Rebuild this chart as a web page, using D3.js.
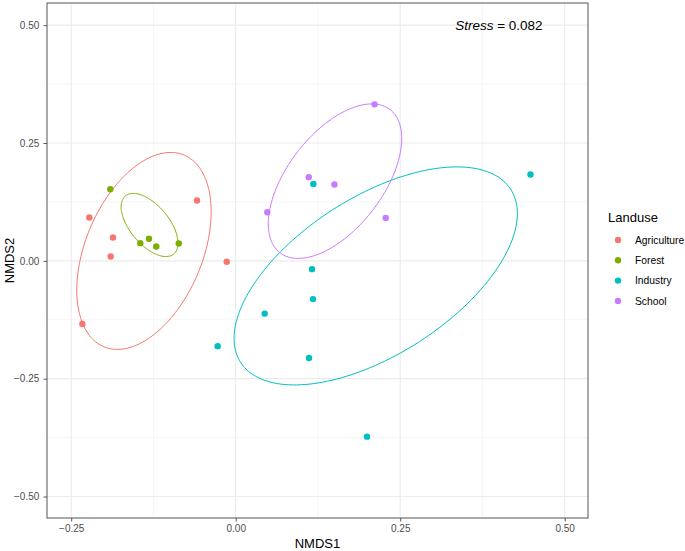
<!DOCTYPE html>
<html><head><meta charset="utf-8">
<script src="https://cdn.jsdelivr.net/npm/d3@7"></script>
<style>body{margin:0;background:#fff;font-family:"Liberation Sans",Arial,sans-serif;}</style>
</head><body><svg id="c" width="685" height="551"></svg>
<script>
const groups = ["Agriculture","Forest","Industry","School"];
const colors = ["#F8766D","#7CAE00","#00BFC4","#C77CFF"];
const agricultureX = [-0.2225,-0.1865,-0.190,-0.0588,-0.0137,-0.233];
const agricultureY = [0.092,0.0496,0.0093,0.128,-0.002,-0.134];
const forestX = [-0.1906,-0.145,-0.1318,-0.1207,-0.0866];
const forestY = [0.152,0.0375,0.0467,0.0305,0.0369];
const industryX = [-0.0274,0.118,0.448,0.116,0.1175,0.044,0.1114,0.1995];
const industryY = [-0.181,0.163,0.183,-0.0176,-0.0812,-0.112,-0.206,-0.373];
const schoolX = [0.211,0.111,0.150,0.048,0.228];
const schoolY = [0.332,0.1775,0.162,0.103,0.091];
// 95% ellipses per group (data units): centre, half-width in x,
// y-offset at the rightmost point, half-height in y
const ellipseCX = [-0.1394,-0.1309,0.2128,0.1509];
const ellipseCY = [0.0210,0.0761,-0.0320,0.1690];
const ellipseHalfX = [0.1021,0.0432,0.2153,0.1014];
const ellipseYAtXMax = [0.0829,-0.0385,0.1325,0.0905];
const ellipseHalfY = [0.2089,0.0670,0.2313,0.1639];
const xTicks = [-0.25,0,0.25,0.5];
const yTicks = [-0.5,-0.25,0,0.25,0.5];
const stressValue = "0.082";
const stressPos = [0.4, 0.5];

const seriesX = [agricultureX, forestX, industryX, schoolX];
const seriesY = [agricultureY, forestY, industryY, schoolY];

const svg = d3.select("#c");
const L = 47, R = 588, T = 3, B = 518;
const x = d3.scaleLinear().domain([-0.2868, 0.5354]).range([L, R]);
const y = d3.scaleLinear().domain([-0.5456, 0.547]).range([B, T]);

// grid
const g = svg.append("g");
const minorX = [-0.125,0.125,0.375], minorY = [-0.375,-0.125,0.125,0.375];
g.selectAll(".mx").data(minorX).enter().append("line")
 .attr("x1",d=>x(d)).attr("x2",d=>x(d)).attr("y1",T).attr("y2",B)
 .attr("stroke","#f0f0f0").attr("stroke-width",0.6);
g.selectAll(".my").data(minorY).enter().append("line")
 .attr("y1",d=>y(d)).attr("y2",d=>y(d)).attr("x1",L).attr("x2",R)
 .attr("stroke","#f0f0f0").attr("stroke-width",0.6);
g.selectAll(".Mx").data(xTicks).enter().append("line")
 .attr("x1",d=>x(d)).attr("x2",d=>x(d)).attr("y1",T).attr("y2",B)
 .attr("stroke","#ebebeb").attr("stroke-width",1.1);
g.selectAll(".My").data(yTicks).enter().append("line")
 .attr("y1",d=>y(d)).attr("y2",d=>y(d)).attr("x1",L).attr("x2",R)
 .attr("stroke","#ebebeb").attr("stroke-width",1.1);

const clip = svg.append("clipPath").attr("id","pc").append("rect")
  .attr("x",L).attr("y",T).attr("width",R-L).attr("height",B-T);
const line = d3.line().x(d=>x(d[0])).y(d=>y(d[1])).curve(d3.curveLinearClosed);
const eg = svg.append("g").attr("clip-path","url(#pc)");
groups.forEach((grp,gi)=>{
  const a = ellipseHalfX[gi], b = ellipseYAtXMax[gi];
  const c = Math.sqrt(ellipseHalfY[gi]**2 - b*b);
  const pts = d3.range(0, 2*Math.PI, Math.PI/90).map(t=>[
    ellipseCX[gi] + a*Math.cos(t),
    ellipseCY[gi] + b*Math.cos(t) + c*Math.sin(t)]);
  eg.append("path").attr("d", line(pts))
    .attr("fill","none").attr("stroke",colors[gi]).attr("stroke-width",1);
});
groups.forEach((grp,gi)=>{
  const pts = seriesX[gi].map((v,i)=>[v, seriesY[gi][i]]);
  eg.selectAll(".p"+gi).data(pts).enter().append("circle")
    .attr("cx",d=>x(d[0])).attr("cy",d=>y(d[1])).attr("r",3.2).attr("fill",colors[gi]);
});

// border
svg.append("rect").attr("x",L).attr("y",T).attr("width",R-L).attr("height",B-T)
  .attr("fill","none").attr("stroke","#555").attr("stroke-width",1);

// axes
const fmt = d3.format(".2f");
const xa = svg.append("g").attr("transform",`translate(0,${B})`)
  .call(d3.axisBottom(x).tickValues(xTicks).tickFormat(fmt).tickSizeOuter(0).tickSize(3.5).tickPadding(3));
const ya = svg.append("g").attr("transform",`translate(${L},0)`)
  .call(d3.axisLeft(y).tickValues(yTicks).tickFormat(fmt).tickSizeOuter(0).tickSize(3.5).tickPadding(4.2));
[xa,ya].forEach(a=>{
  a.select(".domain").remove();
  a.selectAll(".tick line").attr("stroke","#555").attr("stroke-width",1);
  a.selectAll(".tick text").attr("fill","#4d4d4d").attr("font-size","10px").attr("font-family","Liberation Sans, Arial, sans-serif");
});

svg.append("text").attr("x",(L+R)/2).attr("y",548).attr("text-anchor","middle")
  .attr("font-size","13px").attr("fill","#000").text("NMDS1");
svg.append("text").attr("transform",`translate(13.5,${(T+B)/2}) rotate(-90)`).attr("text-anchor","middle")
  .attr("font-size","13px").attr("fill","#000").text("NMDS2");

// stress
const st = svg.append("text").attr("x",x(stressPos[0])).attr("y",y(stressPos[1])+4.5).attr("text-anchor","middle")
  .attr("font-size","13.5px").attr("fill","#000");
st.append("tspan").attr("font-style","italic").text("Stress");
st.append("tspan").text(" = "+stressValue);

// legend
const lg = svg.append("g");
lg.append("text").attr("x",608).attr("y",221.5).attr("font-size","13px").attr("fill","#000").text("Landuse");
groups.forEach((grp,gi)=>{
  const yy = 240 + gi*20.3;
  lg.append("circle").attr("cx",618).attr("cy",yy).attr("r",3.2).attr("fill",colors[gi]);
  lg.append("text").attr("x",635).attr("y",yy+3.7).attr("font-size","10.3px").attr("fill","#000").text(grp);
});
</script></body></html>
